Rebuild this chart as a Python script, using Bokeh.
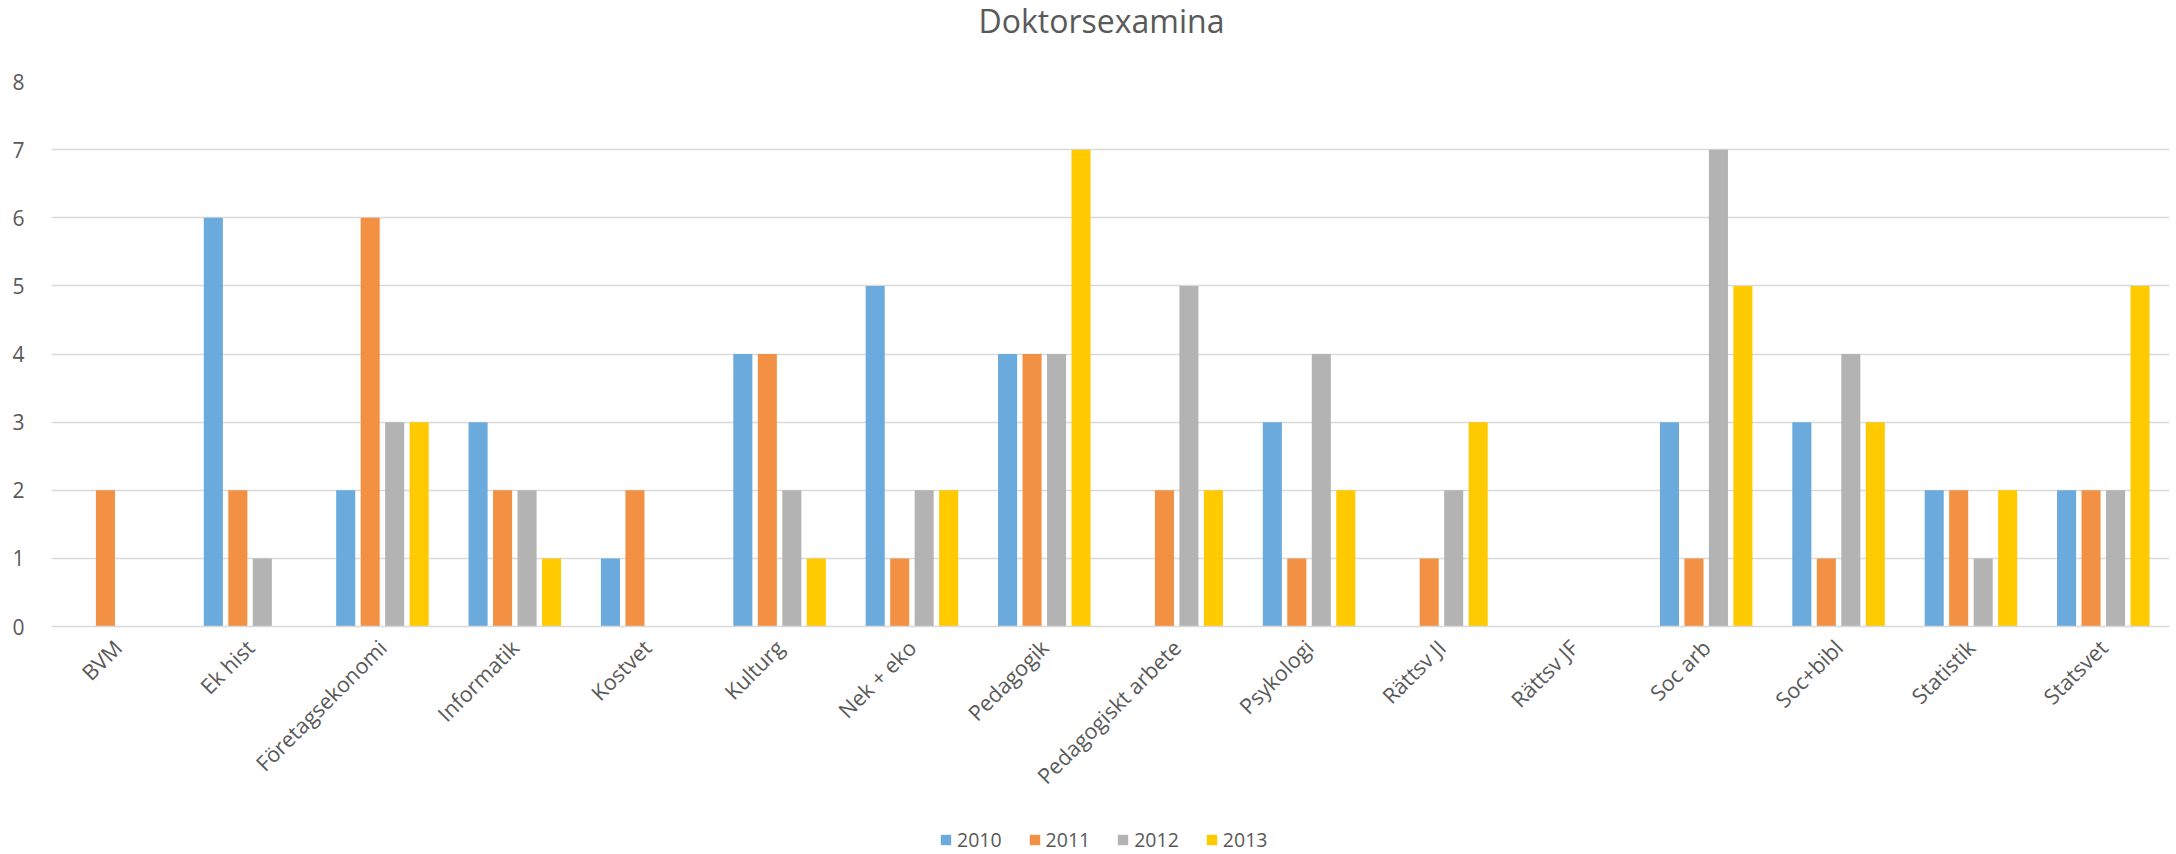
import math
from bokeh.plotting import figure
from bokeh.layouts import column
from bokeh.models import (ColumnDataSource, FactorRange, Range1d, FixedTicker, Legend,
                          LegendItem, Label)
from bokeh.transform import dodge
from bokeh.embed import file_html
from bokeh.resources import INLINE

categories = ["BVM", "Ek hist", "Företagsekonomi", "Informatik", "Kostvet", "Kulturg",
              "Nek + eko", "Pedagogik", "Pedagogiskt arbete", "Psykologi", "Rättsv JI",
              "Rättsv JF", "Soc arb", "Soc+bibl", "Statistik", "Statsvet"]
years = ["2010", "2011", "2012", "2013"]
v2010 = [0, 6, 2, 3, 1, 4, 5, 4, 0, 3, 0, 0, 3, 3, 2, 2]
v2011 = [2, 2, 6, 2, 2, 4, 1, 4, 2, 1, 1, 0, 1, 1, 2, 2]
v2012 = [0, 1, 3, 2, 0, 2, 2, 4, 5, 4, 2, 0, 7, 4, 1, 2]
v2013 = [0, 0, 3, 1, 0, 1, 2, 7, 2, 2, 3, 0, 5, 3, 2, 5]
y_ticks = [0, 1, 2, 3, 4, 5, 6, 7, 8]
title_text = "Doktorsexamina"

colors = ["#6AAADC", "#F29143", "#B3B3B3", "#FFCA00"]
FONT = "Open Sans"
TXT = "#595959"
W = 2176
FRAME_LEFT = 51

# ---- title strip ----
top = figure(width=W, height=60, x_range=Range1d(0, 1), y_range=Range1d(0, 1),
             output_backend="svg", toolbar_location=None,
             x_axis_location=None, y_axis_location=None,
             min_border_left=0, min_border_right=0, min_border_top=0, min_border_bottom=0)
top.grid.visible = False
top.outline_line_color = None
top.add_layout(Label(x=1101 - FRAME_LEFT, y=40.5, x_units="screen", y_units="screen",
                     text=title_text, text_align="center", text_baseline="alphabetic",
                     text_font=FONT, text_font_size="32px", text_color=TXT))

# ---- main chart ----
src = ColumnDataSource(dict(cat=categories, y2010=v2010, y2011=v2011, y2012=v2012, y2013=v2013))

p = figure(width=W, height=752, x_range=FactorRange(factors=categories),
           y_range=Range1d(0, 8), output_backend="svg", toolbar_location=None,
           min_border_left=FRAME_LEFT, min_border_right=7, min_border_top=21, min_border_bottom=186)
p.title.visible = False

offsets = [-0.2775, -0.0925, 0.0925, 0.2775]
for yr, off, col in zip(years, offsets, colors):
    p.vbar(x=dodge("cat", off, range=p.x_range), top="y" + yr, width=0.144, bottom=0,
           source=src, fill_color=col, line_color=None)

p.xgrid.grid_line_color = None
p.ygrid.grid_line_color = "#D9D9D9"
p.ygrid.grid_line_width = 1.3
p.yaxis.ticker = FixedTicker(ticks=y_ticks)
p.yaxis.axis_line_color = None
p.yaxis.major_tick_line_color = None
p.yaxis.minor_tick_line_color = None
p.yaxis.major_label_standoff = 21
p.yaxis.major_label_text_font = FONT
p.yaxis.major_label_text_font_size = "21px"
p.yaxis.major_label_text_color = TXT

p.xaxis.axis_line_color = "#D9D9D9"
p.xaxis.axis_line_width = 1.5
p.xaxis.major_tick_line_color = None
p.xaxis.minor_tick_line_color = None
p.xaxis.major_label_orientation = math.pi / 4
p.xaxis.major_label_standoff = 11
p.xaxis.major_label_text_font = FONT
p.xaxis.major_label_text_font_size = "21.5px"
p.xaxis.major_label_text_color = TXT
p.outline_line_color = None

# ---- legend strip (zero-height proxy bars only carry the legend swatches) ----
leg = figure(width=W, height=42, x_range=Range1d(0, 1), y_range=Range1d(0, 1),
             output_backend="svg", toolbar_location=None,
             x_axis_location=None, y_axis_location=None,
             min_border_left=0, min_border_right=0, min_border_top=0, min_border_bottom=0)
leg.grid.visible = False
leg.outline_line_color = None
items = []
for yr, col in zip(years, colors):
    r = leg.vbar(x=[0.5], top=[0], bottom=[0], width=0.1, fill_color=col, line_color=None)
    items.append(LegendItem(label=yr, renderers=[r]))
legend = Legend(items=items, orientation="horizontal", location=(939 - FRAME_LEFT, 1.5),
                padding=0, margin=0, spacing=26, label_standoff=5, glyph_width=13, glyph_height=13,
                label_text_font=FONT, label_text_font_size="19.5px", label_text_color=TXT,
                border_line_color=None, background_fill_alpha=0)
leg.add_layout(legend)

layout = column(top, p, leg, spacing=0)
open("out.html", "w").write(file_html(layout, INLINE))
